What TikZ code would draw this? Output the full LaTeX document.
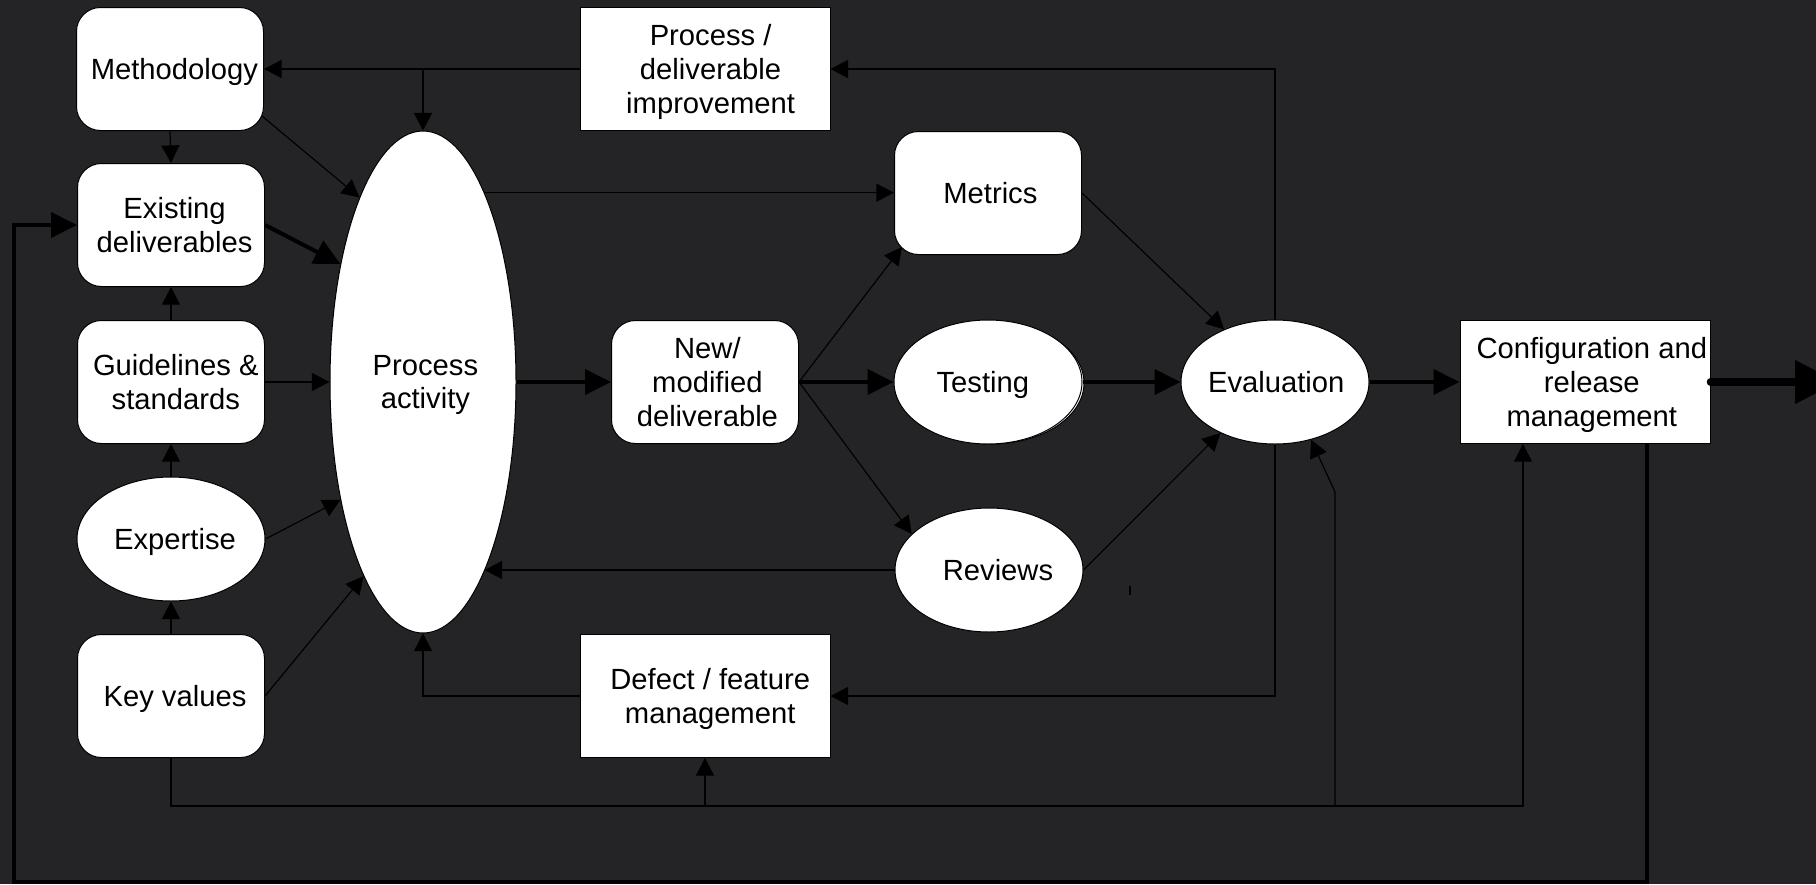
\documentclass[tikz,border=0pt]{standalone}
\usepackage{fontspec}
\setmainfont{Liberation Sans}
\usetikzlibrary{arrows.meta,shapes.geometric}
\definecolor{bg}{RGB}{36,36,38}
\begin{document}
\begin{tikzpicture}[x=0.5pt,y=-0.5pt,
  font=\fontsize{14.6}{16.8}\selectfont,
  txt/.style={align=center, inner sep=0pt, text depth=0pt},
  box/.style={draw=black, fill=white, line width=0.5pt, inner sep=0pt},
  rbox/.style={box, rounded corners=12pt, minimum width=93.5pt, minimum height=61.5pt},
  sbox/.style={box, minimum width=125pt, minimum height=61.5pt},
  oval/.style={box, ellipse, minimum width=94pt, minimum height=62pt},
  thinarr/.style={line width=0.6pt, -{Triangle[length=8.8pt,width=9pt]}},
  thickarr/.style={line width=2pt, -{Triangle[length=13pt,width=12.5pt]}},
  thinline/.style={line width=0.6pt}]

% canvas
\useasboundingbox (0,0) rectangle (1816,884);
\clip (0,0) rectangle (1816,884);
\fill[bg] (0,0) rectangle (1816,884);

% left column of inputs
\node[rbox, label={[txt,xshift=2.2pt]center:Methodology}] (meth) at (170,69) {};
\node[rbox, label={[txt,xshift=1.8pt]center:{Existing\\deliverables}}] (exist) at (171,225) {};
\node[rbox, label={[txt,xshift=2.4pt]center:{Guidelines \&\\standards}}] (guide) at (171,382) {};
\node[oval, label={[txt,xshift=2pt]center:Expertise}] (expert) at (171,539) {};
\node[rbox, label={[txt,xshift=2pt]center:Key values}] (keyv) at (171,696) {};

% central activity
\node[box, ellipse, minimum width=93pt, minimum height=251pt,
      label={[txt,xshift=1.2pt]center:{Process\\activity}}] (proc) at (423,382) {};

% middle and right
\node[sbox, label={[txt,xshift=2.8pt]center:{Process /\\deliverable\\improvement}}] (impr) at (705,69) {};
\node[rbox, label={[txt,xshift=1.2pt]center:Metrics}] (metr) at (988,193) {};
\node[rbox, label={[txt,xshift=1.2pt]center:{New/\\modified\\deliverable}}] (newd) at (705,382) {};
% offset outline behind the testing oval
\draw[fill=white, line width=0.5pt] (991,383) ellipse [x radius=46.5pt, y radius=30.5pt];
\node[oval, label={[txt,xshift=-2.6pt]center:Testing}] (test) at (988,382) {};
\node[oval, label={[txt,xshift=4.5pt]center:Reviews}] (rev) at (989,570) {};
\node[oval, label={[txt,xshift=0.6pt]center:Evaluation}] (eval) at (1275,382) {};
\node[sbox, label={[txt,xshift=2.6pt]center:{Defect / feature\\management}}] (defect) at (705,696) {};
\node[sbox, label={[txt,xshift=3.4pt]center:{Configuration and\\release\\management}}] (config) at (1585,382) {};

% improvement loop
\coordinate (j1) at (proc.north |- meth.east);
\draw[thinarr] (impr.west) -- (meth.east);
\draw[thinarr] (j1) -- (proc.north);
\draw[thinarr] (eval.north) |- (impr.east);
\draw[thinarr] (eval.south) |- (defect.east);
\draw[thinarr] (defect.west) -| (proc.south);
\draw[thinarr] (rev.west) -- (rev.west -| proc.-72);

% left column into the activity
\draw[thinarr] (meth.south) -- (exist.north);
\draw[thinarr] (guide.north) -- (exist.south);
\draw[thinarr] (expert.north) -- (guide.south);
\draw[thinarr] (keyv.north) -- (expert.south);
\draw[thinarr] ([shift={(-2,-15)}]meth.south east) -- (proc.109);
\draw[thickarr] (exist.east) -- (proc.125);
\draw[thinarr] (guide.east) -- (proc.west);
\draw[thinarr] (expert.east) -- (proc.235);
\draw[thinarr] (keyv.east) -- (proc.253);

% main flow
\draw[thinarr] (proc.72) -- (proc.72 -| metr.west);
\draw[thickarr] (proc.east) -- (newd.west);
\draw[thinarr] (newd.east) -- ([shift={(8,-8)}]metr.south west);
\draw[thickarr] (newd.east) -- (test.west);
\draw[thinarr] (newd.east) -- (rev.155);
\draw[thinarr] (metr.east) -- (eval.134);
\draw[thickarr] (test.east) -- (eval.west);
\draw[thinarr] (rev.east) -- (eval.223);
\draw[thickarr] (eval.east) -- (config.west);
\coordinate (out) at (1838,382);
\draw[line width=3.8pt, line cap=round, -{Triangle[length=21.5pt,width=21pt]}] (config.east) -- (out);

% release feedback to existing deliverables
\coordinate (cfgout) at ([shift={(62,0)}]config.south);
\coordinate (lb) at (14,882);
\draw[thickarr] (cfgout) |- (lb) |- (exist.west);

% key values bus
\path (keyv.south) ++(0,48) coordinate (busL);
\coordinate (cfgin) at ([shift={(-62,0)}]config.south);
\coordinate (bend) at (1335,492);
\draw[thinarr] (keyv.south) -- (busL) -| (cfgin);
\draw[thinarr] (busL -| defect.south) -- (defect.south);
\draw[thinarr] (busL -| bend) -- (bend) -- (eval.-58);

% small tick
\draw[thinline] (1130,586) -- (1130,595);
\end{tikzpicture}
\end{document}
